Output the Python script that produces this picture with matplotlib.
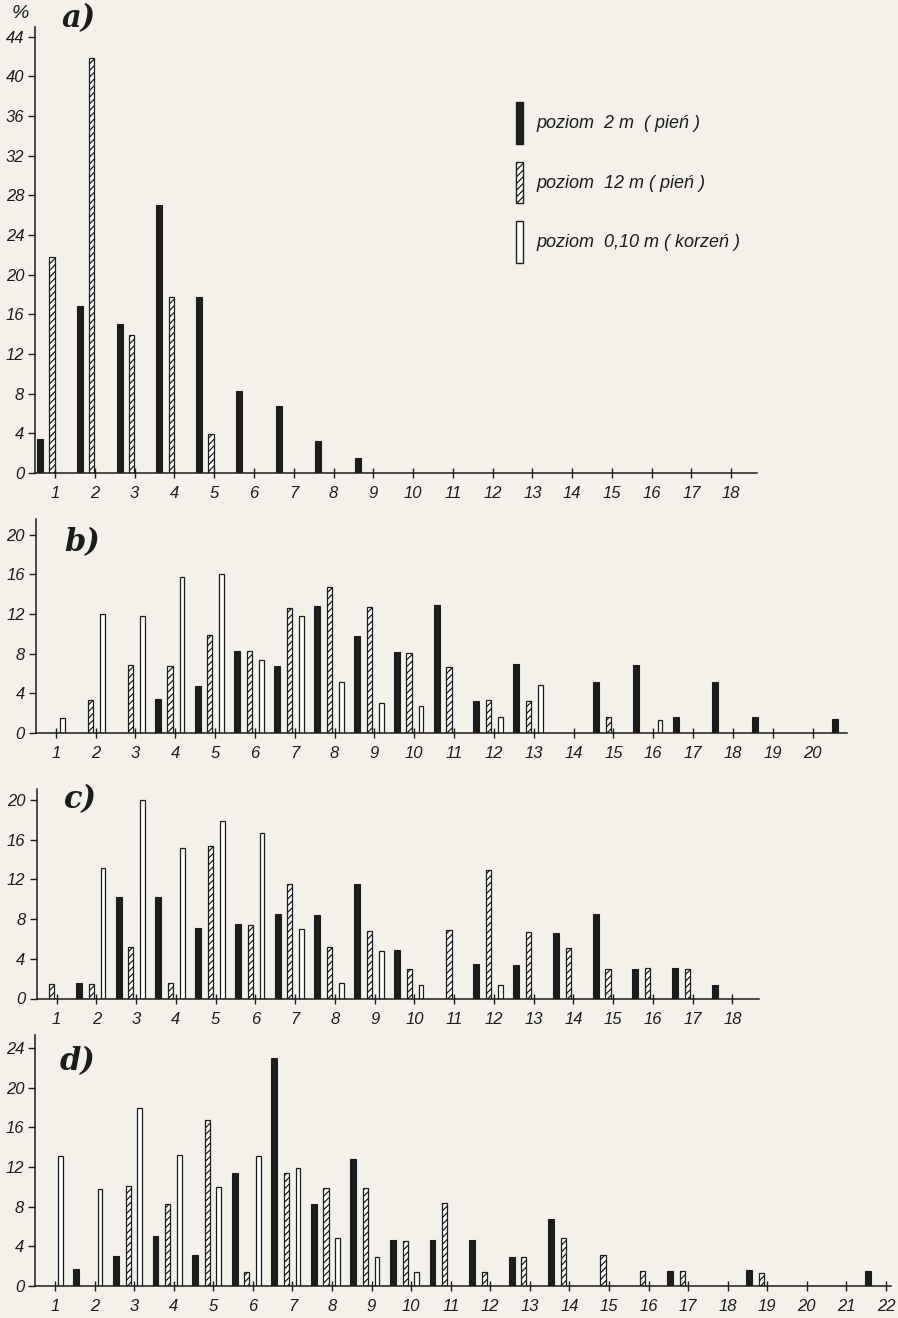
import numpy as np
import matplotlib.pyplot as plt
from matplotlib.patches import Patch

# dane (% promieni w klasach liczby komórek)
a_classes = np.arange(1, 19)
a_2m = [3.4, 16.8, 15.0, 27.0, 17.7, 8.3, 6.8, 3.2, 1.5, 0, 0, 0, 0, 0, 0, 0, 0, 0]
a_12m = [21.8, 41.8, 13.9, 17.7, 3.9, 0, 0, 0, 0, 0, 0, 0, 0, 0, 0, 0, 0, 0]

b_classes = np.arange(1, 22)
b_2m = [0, 0, 0, 3.4, 4.7, 8.3, 6.8, 12.8, 9.8, 8.2, 12.9, 3.2, 7.0, 0, 5.1, 6.9, 1.6, 5.1, 1.6, 0, 1.4]
b_12m = [0, 3.3, 6.9, 6.8, 9.9, 8.3, 12.6, 14.7, 12.7, 8.1, 6.7, 3.3, 3.2, 0, 1.6, 0, 0, 0, 0, 0, 0]
b_010 = [1.5, 12.0, 11.8, 15.7, 16.0, 7.4, 11.8, 5.1, 3.0, 2.7, 0, 1.6, 4.8, 0, 0, 1.3, 0, 0, 0, 0, 0]

c_classes = np.arange(1, 19)
c_2m = [0, 1.6, 10.2, 10.2, 7.1, 7.5, 8.5, 8.4, 11.5, 4.9, 0, 3.5, 3.4, 6.6, 8.5, 3.0, 3.1, 1.4]
c_12m = [1.5, 1.5, 5.2, 1.6, 15.4, 7.4, 11.5, 5.2, 6.8, 3.0, 6.9, 13.0, 6.7, 5.1, 3.0, 3.1, 3.0, 0]
c_010 = [0, 13.2, 20.0, 15.2, 17.9, 16.7, 7.0, 1.6, 4.8, 1.4, 0, 1.4, 0, 0, 0, 0, 0, 0]

d_classes = np.arange(1, 23)
d_2m = [0, 1.75, 3.0, 5.05, 3.1, 11.4, 23.0, 8.25, 12.8, 4.65, 4.65, 4.65, 2.95, 6.8, 0, 0, 1.55, 0, 1.6, 0, 0, 1.55]
d_12m = [0, 0, 10.1, 8.3, 16.7, 1.45, 11.4, 9.9, 9.9, 4.55, 8.35, 1.45, 2.95, 4.85, 3.1, 1.55, 1.55, 0, 1.35, 0, 0, 0]
d_010 = [13.1, 9.8, 17.9, 13.2, 10.0, 13.1, 11.9, 4.8, 2.9, 1.4, 0, 0, 0, 0, 0, 0, 0, 0, 0, 0, 0, 0]

series_labels = ['poziom  2 m  ( pień )', 'poziom  12 m ( pień )', 'poziom  0,10 m ( korzeń )']

W, H = 898, 1318
BG = '#f3f1ea'
INK = '#1c1c1c'
plt.rcParams['hatch.linewidth'] = 0.9
plt.rcParams['hatch.color'] = INK

fig = plt.figure(figsize=(W / 100, H / 100), dpi=100, facecolor=BG)

YPX = 9.92   # px per percent


def make_axes(baseline, xmax, ymax, yticks, nticks, x1_px=55.5, xpx=39.75):
    # x1_px: pixel position of class 1, xpx: pixels per class
    x0 = x1_px - 0.5 * xpx
    w = (xmax - 0.5) * xpx
    h = ymax * YPX
    ax = fig.add_axes([x0 / W, (H - baseline) / H, w / W, h / H])
    ax.set_facecolor('none')
    ax.set_xlim(0.5, xmax)
    ax.set_ylim(0, ymax)
    for s in ['top', 'right']:
        ax.spines[s].set_visible(False)
    for s in ['left', 'bottom']:
        ax.spines[s].set_color(INK)
        ax.spines[s].set_linewidth(1.1)
    ax.set_yticks(yticks)
    ax.set_xticks(np.arange(1, nticks + 1))
    ax.tick_params(axis='y', direction='out', length=5, width=1, colors=INK, pad=3, labelsize=12)
    ax.tick_params(axis='x', direction='inout', length=7, width=1, colors=INK, pad=6, labelsize=12)
    for lab in ax.get_xticklabels() + ax.get_yticklabels():
        lab.set_fontstyle('italic')
        lab.set_family('Liberation Sans')
    return ax


def draw_bars(ax, classes, vals, offs, kind):
    vals = np.asarray(vals)
    m = vals > 0
    if kind == 'black':
        ax.bar(classes[m] + offs, vals[m], width=0.15, color=INK, edgecolor=INK, linewidth=0.8)
    elif kind == 'hatch':
        ax.bar(classes[m] + offs, vals[m], width=0.13, color='white', edgecolor=INK,
               linewidth=0.9, hatch='/////')
    else:
        ax.bar(classes[m] + offs, vals[m], width=0.12, color='white', edgecolor=INK, linewidth=0.9)


def panel_label(txt, x_px, y_px):
    fig.text(x_px / W, 1 - y_px / H, txt, fontsize=22, fontweight='bold', fontstyle='italic',
             family='DejaVu Serif', color=INK, va='center', ha='left')


# a)
ax_a = make_axes(473, 18.65, 45, np.arange(0, 45, 4), 18, x1_px=55.2, xpx=39.76)
draw_bars(ax_a, a_classes, a_2m, -0.38, 'black')
draw_bars(ax_a, a_classes, a_12m, -0.08, 'hatch')
panel_label('a)', 62, 19)
fig.text(12 / W, 1 - 14 / H, '%', fontsize=14, fontstyle='italic', family='Liberation Sans',
         color=INK, va='center')

handles = [Patch(facecolor=INK, edgecolor=INK),
           Patch(facecolor='white', edgecolor=INK, hatch='/////'),
           Patch(facecolor='white', edgecolor=INK)]
leg = fig.legend(handles=handles, labels=series_labels, loc='upper left',
                 bbox_to_anchor=(500 / W, 1 - 86 / H), frameon=False,
                 handlelength=0.4, handleheight=3.15, handletextpad=0.7, labelspacing=1.0,
                 prop={'family': 'Liberation Sans', 'style': 'italic', 'size': 13})
for t in leg.get_texts():
    t.set_color(INK)

# b)
ax_b = make_axes(733, 20.85, 21.6, np.arange(0, 21, 4), 20, x1_px=55.7, xpx=39.84)
draw_bars(ax_b, b_classes, b_2m, -0.44, 'black')
draw_bars(ax_b, b_classes, b_12m, -0.13, 'hatch')
draw_bars(ax_b, b_classes, b_010, 0.17, 'white')
panel_label('b)', 64, 543)

# c)
ax_c = make_axes(998.5, 18.67, 21.1, np.arange(0, 21, 4), 18, x1_px=56.5, xpx=39.76)
draw_bars(ax_c, c_classes, c_2m, -0.44, 'black')
draw_bars(ax_c, c_classes, c_12m, -0.13, 'hatch')
draw_bars(ax_c, c_classes, c_010, 0.17, 'white')
panel_label('c)', 64, 800)

# d)
ax_d = make_axes(1286, 22.12, 25.3, np.arange(0, 25, 4), 22, x1_px=55.0, xpx=39.57)
draw_bars(ax_d, d_classes, d_2m, -0.46, 'black')
draw_bars(ax_d, d_classes, d_12m, -0.15, 'hatch')
draw_bars(ax_d, d_classes, d_010, 0.14, 'white')
panel_label('d)', 60, 1062)

fig.savefig('out.png', dpi=100, facecolor=BG)
